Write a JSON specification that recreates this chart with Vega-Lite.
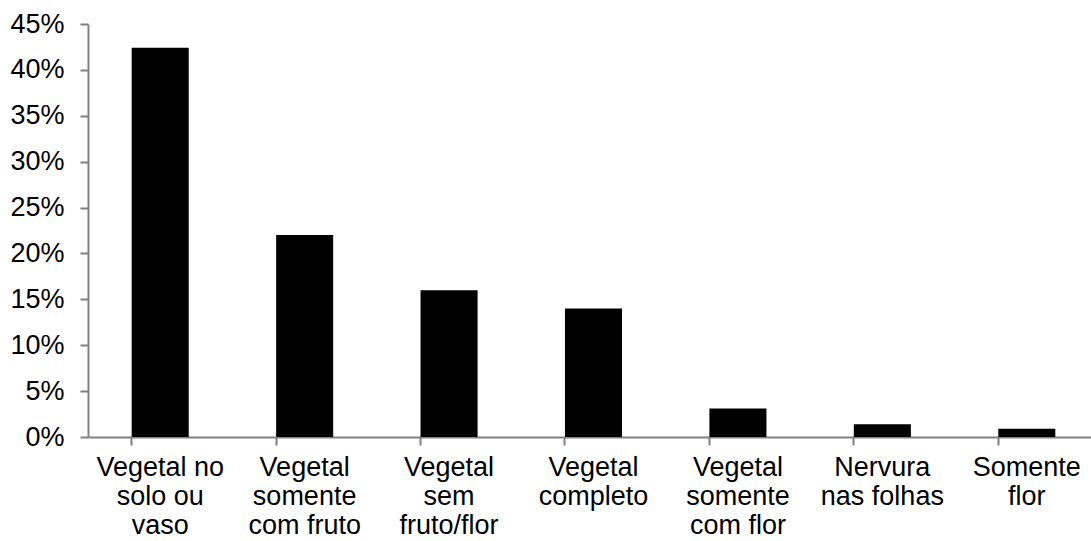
{
  "$schema": "https://vega.github.io/schema/vega-lite/v6.json",
  "autosize": "none",
  "padding": {"left": 88, "top": 24, "right": 0, "bottom": 104},
  "width": 1003,
  "height": 413,
  "background": "white",
  "config": {
    "view": {"stroke": null},
    "font": "Liberation Sans",
    "axis": {
      "labelFont": "Liberation Sans",
      "labelFontSize": 27,
      "labelColor": "black",
      "domainColor": "#808080",
      "tickColor": "#808080",
      "domainWidth": 2,
      "tickWidth": 2,
      "tickSize": 8,
      "grid": false,
      "title": null
    }
  },
  "data": {
    "values": [
      {"categoria": "Vegetal no|solo ou|vaso", "valor": 0.424},
      {"categoria": "Vegetal|somente|com fruto", "valor": 0.22},
      {"categoria": "Vegetal|sem|fruto/flor", "valor": 0.16},
      {"categoria": "Vegetal|completo", "valor": 0.14},
      {"categoria": "Vegetal|somente|com flor", "valor": 0.031},
      {"categoria": "Nervura|nas folhas", "valor": 0.014},
      {"categoria": "Somente|flor", "valor": 0.009}
    ]
  },
  "mark": {"type": "bar", "color": "black"},
  "encoding": {
    "x": {
      "field": "categoria",
      "type": "nominal",
      "sort": null,
      "scale": {"paddingInner": 0.605, "paddingOuter": 0.3025, "range": [0, 1011]},
      "axis": {
        "labelAngle": 0,
        "labelExpr": "split(datum.value, '|')",
        "labelLineHeight": 29,
        "labelPadding": 9,
        "bandPosition": 0,
        "labelBaseline": "top"
      }
    },
    "y": {
      "field": "valor",
      "type": "quantitative",
      "scale": {"domain": [0, 0.45], "nice": false},
      "axis": {
        "format": ".0%",
        "values": [0, 0.05, 0.1, 0.15, 0.2, 0.25, 0.3, 0.35, 0.4, 0.45],
        "labelPadding": 16
      }
    }
  }
}
